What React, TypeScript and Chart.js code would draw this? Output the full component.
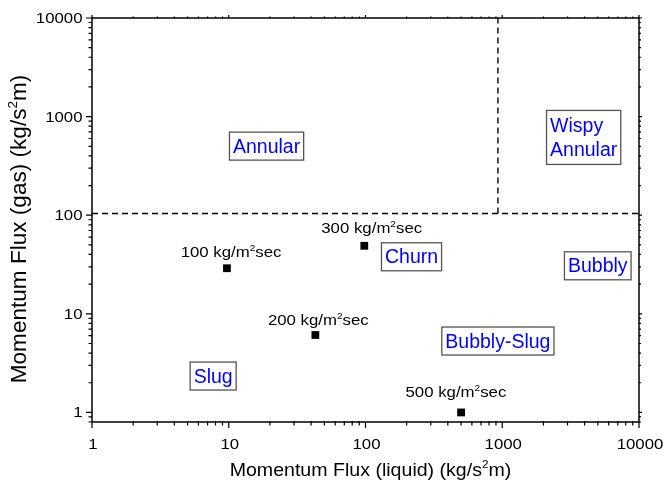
import React, { useEffect, useRef } from "react";
import { Chart, registerables } from "chart.js";

Chart.register(...registerables);

// ---- data ----
const massFluxLabels = ["100", "200", "300", "500"]; // kg/m2sec
const liquidFlux = [9.7, 43, 98, 500];
const gasFlux = [29, 6.1, 49, 1.0];
// where each mass-flux label sits (data coords: centre x, baseline y)
const labelX = [10.4, 45.2, 111, 458];
const labelY = [38.1, 7.71, 66.4, 1.44];

// regime names and box centres (data coords)
const regimeNames = ["Annular", "Wispy\nAnnular", "Bubbly", "Churn", "Bubbly-Slug", "Slug"];
const regimeX = [18.9, 3938, 4993, 217, 929, 7.69];
const regimeY = [502, 615, 30.7, 37.9, 5.3, 2.34];
const regimeAlign = ["center", "left", "center", "center", "center", "center"];

// transition boundaries
const gasBoundary = 104;
const liquidBoundary = 930;

// axes
const xMin = 1, xMax = 10000;
const yMin = 0.8, yMax = 10000;
const xTickLabels = ["1", "10", "100", "1000", "10000"];
const yTickLabels = ["1", "10", "100", "1000", "10000"];

const FONT = '"Liberation Sans", Arial, Helvetica, sans-serif';

function logTicks(min: number, max: number) {
  const out: number[] = [];
  const e0 = Math.floor(Math.log10(min));
  const e1 = Math.ceil(Math.log10(max));
  for (let e = e0; e <= e1; e++) {
    for (let m = 1; m <= 9; m++) {
      const v = Number((m * Math.pow(10, e)).toPrecision(6));
      if (v >= min - 1e-9 && v <= max + 1e-9) out.push(v);
    }
  }
  return out;
}
const isPow10 = (v: number) => Math.abs(Math.log10(v) - Math.round(Math.log10(v))) < 1e-6;

type Part = { t: string; sup?: boolean };

function drawRich(ctx: CanvasRenderingContext2D, parts: Part[], x: number, y: number, size: number, sx: number, align: string, rot = 0) {
  const sup = size * 0.6;
  const widths = parts.map((p) => {
    ctx.font = `${p.sup ? sup : size}px ${FONT}`;
    return ctx.measureText(p.t).width;
  });
  const total = widths.reduce((a, b) => a + b, 0);
  ctx.save();
  ctx.translate(x, y);
  if (rot) ctx.rotate(rot);
  ctx.scale(sx, 1);
  ctx.textAlign = "left";
  ctx.textBaseline = "alphabetic";
  let cx = align === "center" ? -total / 2 : align === "right" ? -total : 0;
  parts.forEach((p, i) => {
    ctx.font = `${p.sup ? sup : size}px ${FONT}`;
    ctx.fillText(p.t, cx, p.sup ? -size * 0.4 : 0);
    cx += widths[i];
  });
  ctx.restore();
  return total * sx;
}

const overlay = {
  id: "overlay",
  afterDraw(chart: any) {
    const ctx: CanvasRenderingContext2D = chart.ctx;
    const xs = chart.scales.x;
    const ys = chart.scales.y;
    const a = chart.chartArea;
    ctx.save();
    ctx.strokeStyle = "#000";
    ctx.fillStyle = "#000";
    ctx.lineWidth = 1.5;
    ctx.strokeRect(a.left, a.top, a.right - a.left, a.bottom - a.top);

    // ticks
    ctx.lineWidth = 1.2;
    ctx.beginPath();
    xs.ticks.forEach((t: any) => {
      const px = xs.getPixelForValue(t.value);
      const major = isPow10(t.value);
      ctx.moveTo(px, major ? a.bottom : a.bottom - 1);
      ctx.lineTo(px, a.bottom + (major ? 6 : 3.5));
      ctx.moveTo(px, a.top);
      ctx.lineTo(px, a.top - (major ? 3 : 1.5));
    });
    ys.ticks.forEach((t: any) => {
      const py = ys.getPixelForValue(t.value);
      const major = isPow10(t.value);
      ctx.moveTo(a.left, py);
      ctx.lineTo(a.left - (major ? 6 : 3.5), py);
      ctx.moveTo(a.right, py);
      ctx.lineTo(a.right + (major ? 3 : 2), py);
    });
    ctx.stroke();

    // tick labels
    ctx.fillStyle = "#000";
    let k = 0;
    xs.ticks.forEach((t: any) => {
      if (!isPow10(t.value)) return;
      const px = xs.getPixelForValue(t.value);
      drawRich(ctx, [{ t: xTickLabels[k++] }], px + 1, a.bottom + 26.5, 14, 1.2, "center");
    });
    k = 0;
    ys.ticks.forEach((t: any) => {
      if (!isPow10(t.value)) return;
      const py = ys.getPixelForValue(t.value);
      drawRich(ctx, [{ t: yTickLabels[k++] }], a.left - 9.5, py + 5, 14, 1.2, "right");
    });

    // axis titles
    drawRich(
      ctx,
      [{ t: "Momentum Flux (liquid) (kg/s" }, { t: "2", sup: true }, { t: "m)" }],
      (a.left + a.right) / 2 + 5,
      475.5,
      19,
      1.03,
      "center"
    );
    drawRich(
      ctx,
      [{ t: "Momentum Flux (gas) (kg/s" }, { t: "2", sup: true }, { t: "m)" }],
      25.5,
      229,
      21.5,
      1.05,
      "center",
      -Math.PI / 2
    );

    // mass-flux labels
    massFluxLabels.forEach((lab, i) => {
      const px = xs.getPixelForValue(labelX[i]);
      const py = ys.getPixelForValue(labelY[i]);
      drawRich(ctx, [{ t: lab + " kg/m" }, { t: "2", sup: true }, { t: "sec" }], px, py, 15, 1.12, "center");
    });

    // regime boxes
    regimeNames.forEach((name, i) => {
      const lines = name.split("\n");
      const size = 19.5;
      ctx.font = `${size}px ${FONT}`;
      const w = Math.max(...lines.map((l) => ctx.measureText(l).width));
      const cx = xs.getPixelForValue(regimeX[i]);
      const cy = ys.getPixelForValue(regimeY[i]);
      const bw = w + 7;
      const bh = 28 + (lines.length - 1) * 26;
      const left = cx - bw / 2;
      const top = cy - bh / 2;
      ctx.fillStyle = "#fff";
      ctx.fillRect(left, top, bw, bh);
      ctx.strokeStyle = "#555";
      ctx.lineWidth = 1.3;
      ctx.strokeRect(left, top, bw, bh);
      ctx.fillStyle = "#0000ff";
      lines.forEach((l, j) => {
        const base = cy + 6.7 + (j - (lines.length - 1) / 2) * 23.4;
        if (regimeAlign[i] === "left") drawRich(ctx, [{ t: l }], left + 3.5, base, size, 1, "left");
        else drawRich(ctx, [{ t: l }], cx, base, size, 1, "center");
      });
    });
    ctx.restore();
  },
};

export default function App() {
  const ref = useRef<HTMLCanvasElement | null>(null);
  useEffect(() => {
    document.body.style.margin = "0";
    const canvas = ref.current!;
    const points = liquidFlux.map((x, i) => ({ x, y: gasFlux[i] }));
    const chart = new Chart(canvas, {
      type: "scatter",
      data: {
        datasets: [
          {
            data: points,
            pointStyle: "rect",
            pointRadius: 5.5,
            backgroundColor: "#000",
            borderColor: "#000",
            borderWidth: 0,
          },
          {
            data: [
              { x: xMin, y: gasBoundary },
              { x: xMax, y: gasBoundary },
            ],
            showLine: true,
            borderDash: [6, 4],
            borderColor: "#000",
            borderWidth: 1.4,
            pointRadius: 0,
          },
          {
            data: [
              { x: liquidBoundary, y: gasBoundary },
              { x: liquidBoundary, y: yMax },
            ],
            showLine: true,
            borderDash: [6, 4],
            borderColor: "#000",
            borderWidth: 1.4,
            pointRadius: 0,
          },
        ],
      },
      options: {
        responsive: false,
        animation: false,
        layout: { padding: { left: 0, top: 18, right: 25, bottom: 0 } },
        plugins: { legend: { display: false }, tooltip: { enabled: false } },
        scales: {
          x: {
            type: "logarithmic",
            min: xMin,
            max: xMax,
            grid: { display: false },
            border: { display: false },
            ticks: { display: false },
            afterBuildTicks: (s: any) => {
              s.ticks = logTicks(xMin, xMax).map((v) => ({ value: v }));
            },
            afterFit: (s: any) => {
              s.height = 59;
            },
          },
          y: {
            type: "logarithmic",
            min: yMin,
            max: yMax,
            grid: { display: false },
            border: { display: false },
            ticks: { display: false },
            afterBuildTicks: (s: any) => {
              s.ticks = logTicks(yMin, yMax).map((v) => ({ value: v }));
            },
            afterFit: (s: any) => {
              s.width = 92;
            },
          },
        },
      } as any,
      plugins: [overlay],
    });
    return () => chart.destroy();
  }, []);
  return <canvas ref={ref} width={664} height={481} style={{ display: "block" }} />;
}
